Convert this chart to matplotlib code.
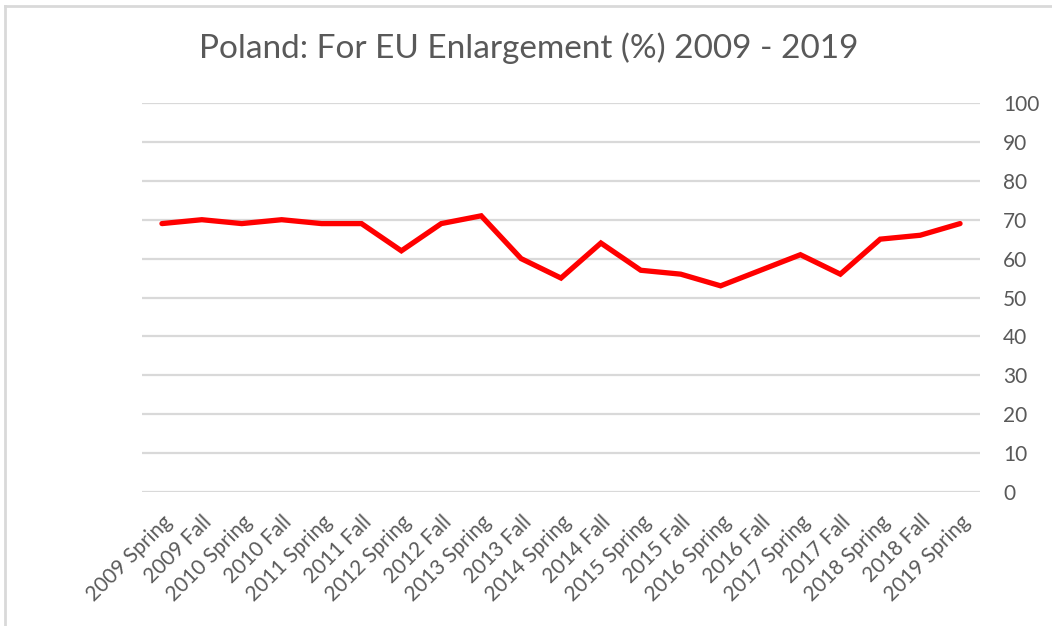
import matplotlib.pyplot as plt
from matplotlib.lines import Line2D

# Survey waves and share in favour of EU enlargement (%)
waves = [
    "2009 Spring", "2009 Fall", "2010 Spring", "2010 Fall", "2011 Spring",
    "2011 Fall", "2012 Spring", "2012 Fall", "2013 Spring", "2013 Fall",
    "2014 Spring", "2014 Fall", "2015 Spring", "2015 Fall", "2016 Spring",
    "2016 Fall", "2017 Spring", "2017 Fall", "2018 Spring", "2018 Fall",
    "2019 Spring",
]
support = [69, 70, 69, 70, 69, 69, 62, 69, 71, 60,
           55, 64, 57, 56, 53, 57, 61, 56, 65, 66, 69]
y_ticks = list(range(0, 101, 10))

TEXT = "#595959"
GRID = "#d9d9d9"
W, H = 1052, 626

plt.rcParams["font.family"] = ["Lato", "DejaVu Sans"]

fig = plt.figure(figsize=(W / 100, H / 100), dpi=100)
ax = fig.add_axes([142 / W, 1 - 492 / H, 838 / W, 389 / H])

x = list(range(len(waves)))
ax.plot(x, support, color="#ff0000", linewidth=3.8, solid_joinstyle="miter",
        solid_capstyle="round", zorder=3)

ax.set_xlim(-0.5, len(waves) - 0.5)
ax.set_ylim(0, 100)
ax.set_yticks(y_ticks)
ax.yaxis.tick_right()
ax.tick_params(axis="y", length=0, pad=16.5, labelsize=15, labelcolor=TEXT)
for lbl in ax.get_yticklabels():
    lbl.set_horizontalalignment("left")
ax.grid(axis="y", color=GRID, linewidth=1.6, zorder=0)

ax.set_xticks(x)
ax.set_xticklabels(waves, rotation=45, ha="right", va="top",
                   rotation_mode="anchor", fontsize=15, color=TEXT)
ax.tick_params(axis="x", length=0, pad=14)

for side in ax.spines.values():
    side.set_visible(False)

fig.text(529 / W, 1 - 48 / H, "Poland: For EU Enlargement (%) 2009 - 2019",
         fontsize=24, color=TEXT, ha="center", va="center")

# light frame along the top and left edge
fig.add_artist(Line2D([5 / W, 1], [1 - 6 / H] * 2, color=GRID,
                      linewidth=2, transform=fig.transFigure))
fig.add_artist(Line2D([5 / W] * 2, [0, 1 - 6 / H], color=GRID,
                      linewidth=2, transform=fig.transFigure))

fig.savefig("out.png", dpi=100, facecolor="white")
